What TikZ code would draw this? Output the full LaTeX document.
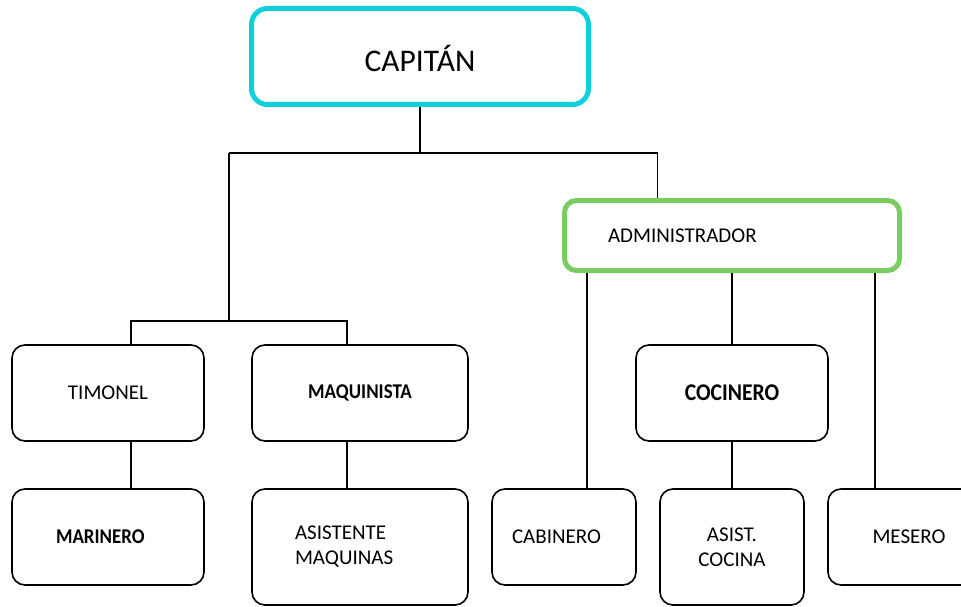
\documentclass[tikz,border=0pt]{standalone}
\usepackage{fontspec}
\setmainfont{Carlito}
\newfontfamily\narrowbf[FakeStretch=0.9]{Carlito}
\definecolor{capcyan}{HTML}{0FD0DA}
\definecolor{admgreen}{HTML}{7ACB60}

\begin{document}
\begin{tikzpicture}[x=1pt,y=-1pt,line width=1.6pt]
	\tikzstyle{unit}=[draw,rounded corners=13pt,minimum width=192pt,minimum height=96pt,font=\fontsize{21}{25}\selectfont,align=center]
	\tikzstyle{lefttext}=[text width=104pt,align=left]
	\tikzstyle{boldtext}=[font=\fontsize{21}{25}\narrowbf\bfseries]
	\useasboundingbox (0,0) rectangle (961,607);

	\node[unit,draw=capcyan,line width=5pt,minimum width=337pt,rounded corners=16pt,font=\fontsize{31.5}{36}\selectfont,text height=31pt](cap) at (420,56.5){CAPITÁN};
	\node[unit,draw=admgreen,line width=5pt,minimum width=335pt,minimum height=70pt,rounded corners=12pt,text width=248pt,align=left](adm) at (732,235.5){ADMINISTRADOR};

	\node[unit](tim) at (108,393){TIMONEL};
	\node[unit,boldtext,minimum width=216pt](maq) at (360,393){MAQUINISTA};
	\node[unit,boldtext,lefttext](mar) at (108,537){MARINERO};
	\node[unit,minimum width=216pt,minimum height=116pt,text width=130pt,align=left](asm) at (360,547){ASISTENTE\\MAQUINAS};

	\node[unit,boldtext,font=\fontsize{24}{28}\narrowbf\bfseries](coc) at (732,393){COCINERO};
	\node[unit,lefttext,minimum width=144pt](cab) at (564,537){CABINERO};
	\node[unit,minimum width=144pt,minimum height=116pt](asc) at (732,547){ASIST.\\COCINA};
	\node[unit,minimum width=162pt](mes) at (909,537){MESERO};

	\coordinate (j0) at (420,153);
	\coordinate (j1) at (229,153);
	\coordinate (j2) at (229,321);
	\coordinate (a0) at ([xshift=95.5pt]adm.north west);
	\coordinate (t0) at ([xshift=120pt]tim.north west);
	\coordinate (m0) at ([xshift=96pt]maq.north west);
	\coordinate (c0) at ([xshift=96pt]cab.north west);
	\coordinate (e0) at ([xshift=48pt]mes.north west);

	\draw (cap.south) -- (j0);
	\draw (j1) -- (j1 -| a0) -- (a0);
	\draw (j1) -- (j2);
	\draw (t0) -- (t0 |- j2) -- (m0 |- j2) -- (m0);
	\draw (t0 |- tim.south) -- (t0 |- mar.north);
	\draw (m0 |- maq.south) -- (m0 |- asm.north);

	\draw (c0) -- (c0 |- adm.south);
	\draw (adm.south) -- (coc.north);
	\draw (e0) -- (e0 |- adm.south);
	\draw (coc.south) -- (asc.north);
\end{tikzpicture}
\end{document}
